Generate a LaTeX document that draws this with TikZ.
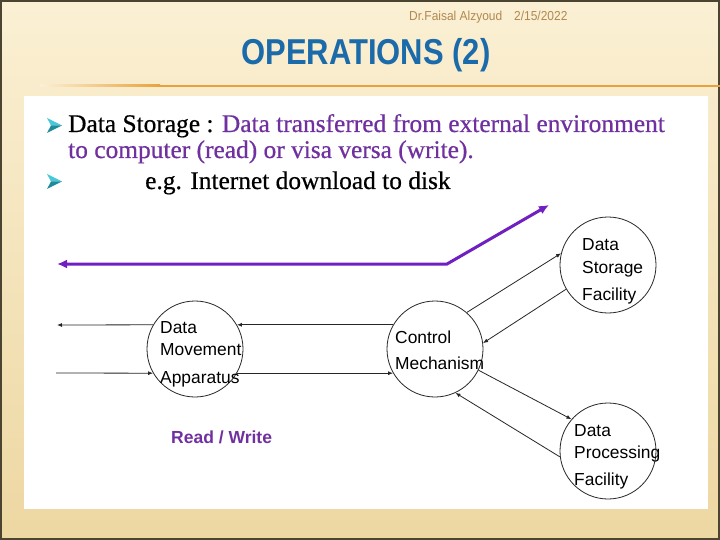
\documentclass[tikz,border=0pt]{standalone}
\usepackage{fontspec}
\setmainfont{Liberation Serif}[FakeBold=0.6]
\newfontfamily\arialf{Liberation Sans}
\newfontfamily\narrowf[FakeStretch=0.92]{Liberation Sans}
\newfontfamily\titlef[FakeStretch=0.86]{Liberation Sans Bold}
\usetikzlibrary{arrows.meta}
\definecolor{bgtop}{HTML}{FBF0D4}
\definecolor{bgbot}{HTML}{EDD7A2}
\definecolor{frame}{HTML}{4A4430}
\definecolor{titleblue}{HTML}{1B6BAA}
\definecolor{hdr}{HTML}{B08850}
\definecolor{orangeline}{HTML}{E9A23B}
\definecolor{ptext}{HTML}{7030A0}
\definecolor{pline}{HTML}{7020C0}
\definecolor{bulcyan}{HTML}{48C8D8}
\definecolor{buldark}{HTML}{1E8A9A}
\tikzset{
  circ/.style={draw=black!85,line width=0.8pt,circle,minimum size=96pt,inner sep=0pt},
  ctext/.style={font=\arialf\fontsize{17.4}{17.4}\selectfont,anchor=base west,inner sep=0pt},
  btext/.style={font=\fontsize{25.4}{25.4}\selectfont,anchor=base west,inner sep=0pt},
  conn/.style={draw=black!85,line width=0.8pt,-{Latex[length=5pt,width=4pt]}},
  bigarrow/.style={draw=pline,line width=3pt,{Latex[length=10pt,width=9pt]}-{Latex[length=10pt,width=9pt]}},
}
\newcommand{\bulletmark}[2]{%
  \fill[bulcyan] (#1,#2) -- ++(15,7.5) -- ++(-11,0) -- cycle;
  \fill[buldark] (#1+4,#2+7.5) -- ++(11,0) -- ++(-15,7.5) -- cycle;
}
\begin{document}
\begin{tikzpicture}[x=1pt,y=-1pt]
\useasboundingbox (0,0) rectangle (720,540);
% background
\shade[top color=bgtop,bottom color=bgbot] (0,0) rectangle (720,540);
\draw[frame,line width=2pt] (1,1) rectangle (719,539);
% header
\node[font=\narrowf\fontsize{13}{13}\selectfont,text=hdr,anchor=base west,inner sep=0pt] (hdr1) at (409,21) {Dr.Faisal Alzyoud};
\node[font=\narrowf\fontsize{13}{13}\selectfont,text=hdr,anchor=base west,inner sep=0pt] (hdr2) at (514,21) {2/15/2022};
\node[font=\titlef\fontsize{36}{36}\selectfont,text=titleblue,anchor=base,inner sep=0pt] (title) at (366,65) {OPERATIONS (2)};
\shade[left color=bgtop,right color=orangeline] (40,85) rectangle (160,87);
\fill[orangeline] (160,85) rectangle (720,87);
% white panel
\fill[white] (24,96) rectangle (708,509);
% bullets
\bulletmark{47}{118}
\bulletmark{47}{174}
\node[btext] (l1) at (68,132) {Data Storage : \textcolor{ptext}{Data transferred from external environment}};
\node[btext,text=ptext] (l2) at (68,158) {to computer (read) or visa versa (write).};
\node[btext] (l3) at (145,189) {e.g. Internet download to disk};
% circles
\node[circ] (dm) at (195,349) {};
\node[circ] (cm) at (435,349) {};
\node[circ] (ds) at (608,265) {};
\node[circ] (dp) at (608,451) {};
% circle texts
\node[ctext] (dm1) at (160,333) {Data};
\node[ctext] (dm2) at (160,355) {Movement};
\node[ctext] (dm3) at (160,383) {Apparatus};
\node[ctext] (cm1) at (395,343) {Control};
\node[ctext] (cm2) at (395,369) {Mechanism};
\node[ctext] (ds1) at (582,251) {Data};
\node[ctext] (ds2) at (582,273) {Storage};
\node[ctext] (ds3) at (582,300) {Facility};
\node[ctext] (dp1) at (574,436) {Data};
\node[ctext] (dp2) at (574,458) {Processing};
\node[ctext] (dp3) at (574,485) {Facility};
% free ends
\coordinate (pl) at (57,264);
\coordinate (pb) at (447,264);
\coordinate (pr) at (549,205);
\coordinate (ul) at (57,325);
\coordinate (ll) at (56,373);
% purple arrow
\draw[bigarrow] (pl) -- (pb) -- (pr);
% connectors
\draw[conn] (dm.150) -- (ul);
\draw[conn] (cm.150) -- (dm.30);
\draw[conn] (ll) -- (dm.210);
\draw[conn] (dm.330) -- (cm.210);
\draw[conn] (cm.49) -- (ds.166);
\draw[conn] (ds.210) -- (cm.7);
\draw[conn] (cm.334) -- (dp.139);
\draw[conn] (dp.187) -- (cm.295);
% read/write
\node[font=\arialf\bfseries\fontsize{17.5}{17.5}\selectfont,text=ptext,anchor=base west,inner sep=0pt] (rw) at (171,443) {Read / Write};
\end{tikzpicture}
\end{document}
